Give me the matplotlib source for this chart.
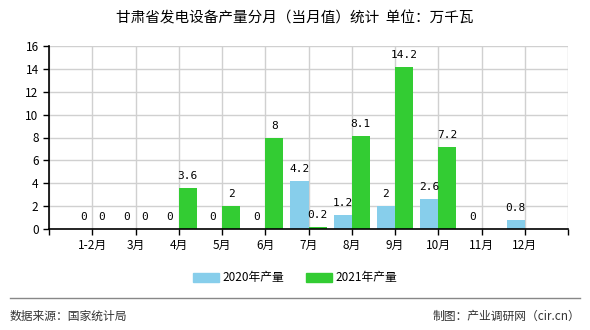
import numpy as np
import matplotlib
matplotlib.use("Agg")
import matplotlib.pyplot as plt
from matplotlib.lines import Line2D

plt.rcParams['font.family'] = ['Noto Sans CJK SC', 'DejaVu Sans']

# data (None = no bar / no label)
months = ["1-2月", "3月", "4月", "5月", "6月", "7月", "8月", "9月", "10月", "11月", "12月"]
prod2020 = [0, 0, 0, 0, 0, 4.2, 1.2, 2, 2.6, 0, 0.8]
prod2021 = [0, 0, 3.6, 2, 8, 0.2, 8.1, 14.2, 7.2, None, None]
series_names = ["2020年产量", "2021年产量"]
title = "甘肃省发电设备产量分月（当月值）统计  单位：万千瓦"
source = "数据来源：国家统计局"
maker = "制图：产业调研网（cir.cn）"

c2020 = "#87CEEB"
c2021 = "#33CC33"

fig = plt.figure(figsize=(5.9, 3.3), dpi=100, facecolor='w')
ax = fig.add_axes([49/590, 1-229/330, (568-49)/590, (229-46)/330])

x = np.arange(1, len(months) + 1)
w = 0.42

def fmt(v):
    return ("%g" % v)

for i, (a, b) in enumerate(zip(prod2020, prod2021)):
    if a is not None:
        ax.bar(x[i] - w, a, width=w, align='edge', color=c2020, zorder=3)
        ax.annotate(fmt(a), (x[i] - w/2, a), xytext=(0, 5), textcoords='offset points',
                    ha='center', va='bottom', fontsize=8, family='DejaVu Sans Mono', zorder=4)
    if b is not None:
        ax.bar(x[i], b, width=w, align='edge', color=c2021, zorder=3)
        ax.annotate(fmt(b), (x[i] + w/2, b), xytext=(0, 5), textcoords='offset points',
                    ha='center', va='bottom', fontsize=8, family='DejaVu Sans Mono', zorder=4)

ax.set_xlim(0, len(months) + 1)
ax.set_ylim(0, 16)
ax.set_yticks(np.arange(0, 17, 2))
ax.set_xticks(np.arange(0, len(months) + 2))
ax.set_xticklabels([""] + months + [""])
ax.tick_params(axis='both', labelsize=8.5, length=4, width=1, direction='out', colors='black')
ax.grid(True, color='#d0d0d0', linewidth=1, zorder=0)
ax.set_axisbelow(True)
for s in ['top', 'right']:
    ax.spines[s].set_visible(False)
for s in ['left', 'bottom']:
    ax.spines[s].set_color('black')
    ax.spines[s].set_linewidth(1.2)
    ax.spines[s].set_zorder(5)

fig.text(0.5, 1-18/330, title, ha='center', va='center', fontsize=10.5)

handles = [plt.Rectangle((0, 0), 1, 1, color=c2020), plt.Rectangle((0, 0), 1, 1, color=c2021)]
fig.legend(handles, series_names, loc='center', bbox_to_anchor=(0.5, 1-278/330), ncol=2,
           frameon=False, fontsize=8.5, handlelength=2.2, handleheight=0.8, columnspacing=1.8,
           handletextpad=0.3)

fig.add_artist(Line2D([10/590, 580/590], [1-298/330, 1-298/330], color='#888888', linewidth=1))
fig.text(10/590, 1-316/330, source, ha='left', va='center', fontsize=8.5, color='#333333')
fig.text(580/590, 1-316/330, maker, ha='right', va='center', fontsize=8.5, color='#333333')

fig.savefig("out.png", dpi=100, facecolor='w')
